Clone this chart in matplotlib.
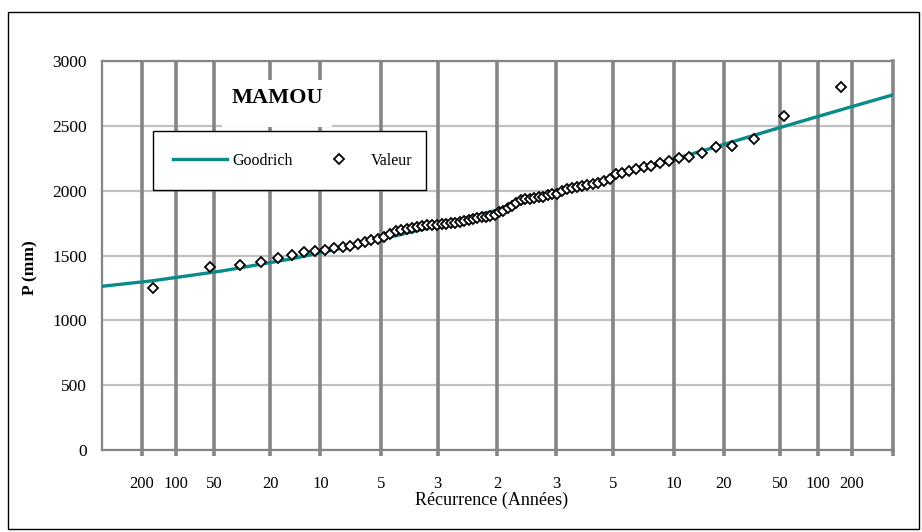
from statistics import NormalDist

import matplotlib
matplotlib.use("Agg")
import matplotlib.pyplot as plt
from matplotlib.patches import Rectangle

plt.rcParams["font.family"] = ["Liberation Serif", "DejaVu Serif"]

# return periods shown on the dry (left) and wet (right) side of the median
left_periods = [200, 100, 50, 20, 10, 5, 3]
right_periods = [3, 5, 10, 20, 50, 100, 200]

# observed annual rainfall, sorted (mm)
valeur = [
    1251, 1410, 1425, 1449, 1482, 1503, 1527, 1533, 1541, 1555,
    1562, 1574, 1587, 1603, 1618, 1629, 1644, 1665, 1687, 1699,
    1707, 1715, 1720, 1727, 1732, 1737, 1738, 1740, 1743, 1748,
    1752, 1758, 1765, 1772, 1781, 1788, 1795, 1799, 1806, 1815,
    1834, 1847, 1863, 1882, 1905, 1925, 1935, 1939, 1944, 1949,
    1955, 1963, 1971, 1978, 1998, 2012, 2021, 2029, 2036, 2045,
    2050, 2057, 2072, 2087, 2128, 2138, 2148, 2165, 2183, 2194,
    2210, 2227, 2252, 2258, 2292, 2338, 2346, 2395, 2574, 2800,
]

# fitted Goodrich law, read at some reduced-variable values
goodrich_u = [-2.87, -2.5, -2.0, -1.5, -1.0, -0.5, 0.0, 0.5, 1.0, 1.5, 2.0, 2.5, 2.87]
goodrich_p = [1262, 1305, 1380, 1472, 1585, 1712, 1850, 2000, 2155, 2310, 2470, 2625, 2738]

TEAL = "#0a8a8a"
GRID_DARK = "#858585"
GRID_LIGHT = "#c0c0c0"


def fig_box(ax, x0, y0, x1, y1, **kw):
    # rectangle given in pixel coords of the 922x532 picture (y from top)
    r = Rectangle((x0 / 922, 1 - y1 / 532), (x1 - x0) / 922, (y1 - y0) / 532,
                  transform=ax.figure.transFigure, clip_on=False, **kw)
    ax.add_patch(r)
    return r


def main():
    nd = NormalDist()
    n = len(valeur)
    # Hazen plotting positions on the gaussian reduced variable
    u_obs = [nd.inv_cdf((i - 0.5) / n) for i in range(1, n + 1)]

    tick_u = [-nd.inv_cdf(1 - 1 / t) for t in left_periods] + [0.0]
    tick_u += [nd.inv_cdf(1 - 1 / t) for t in right_periods]
    tick_lab = [str(t) for t in left_periods] + ["2"] + [str(t) for t in right_periods]

    fig = plt.figure(figsize=(9.22, 5.32), dpi=100)
    ax = fig.add_axes([102 / 922, 1 - 450 / 532, 791 / 922, 389 / 532])

    xmin, xmax = -2.866, 2.874
    ax.set_xlim(xmin, xmax)
    ax.set_ylim(0, 3000)

    for y in range(0, 3001, 500):
        ax.axhline(y, color=GRID_LIGHT, lw=1.6, zorder=1)
    for u in tick_u:
        ax.axvline(u, color=GRID_DARK, lw=2.6, zorder=1)

    ax.plot(goodrich_u, goodrich_p, color=TEAL, lw=2.4, zorder=3, label="Goodrich")
    ax.plot(u_obs, valeur, ls="none", marker="D", ms=5.2, mfc="white", mec="black",
            mew=1.3, zorder=4, label="Valeur")

    ax.set_xticks(tick_u + [xmax])
    ax.set_xticklabels(tick_lab + [""])
    ax.set_yticks(range(0, 3001, 500))
    ax.tick_params(axis="x", length=4, width=2.6, color=GRID_DARK, pad=15, labelsize=12)
    ax.tick_params(axis="y", length=0, pad=11, labelsize=12.5)
    for side in ["left", "bottom", "right", "top"]:
        ax.spines[side].set_color(GRID_DARK)
        ax.spines[side].set_linewidth(1.6)
    ax.spines["right"].set_linewidth(2.6)

    # title on its white patch
    fig_box(ax, 222, 80, 332, 127, fc="white", ec="none", zorder=5)
    ax.text(277 / 922, 1 - 98 / 532, "MAMOU", transform=fig.transFigure,
            ha="center", va="center", fontsize=16, fontweight="bold", zorder=6)

    # legend frame drawn by hand so its size matches the original box
    fig_box(ax, 153, 131, 426, 190, fc="white", ec="black", lw=1.0, zorder=5)
    leg = ax.legend(loc="center left", bbox_to_anchor=(173 / 922, 1 - 160.5 / 532),
                    bbox_transform=fig.transFigure, ncol=2, fontsize=11.5,
                    frameon=False, borderpad=0, handlelength=3.4, handletextpad=0.3,
                    columnspacing=1.2, borderaxespad=0)
    leg.set_zorder(6)

    fig.text(30 / 922, 1 - 268 / 532, "P (mm)", rotation=90, ha="center", va="center",
             fontsize=12.5, fontweight="bold")
    fig.text(492 / 922, 1 - 500 / 532, "Récurrence (Années)", ha="center", va="center",
             fontsize=13)

    fig.patches.append(Rectangle((8 / 922, 3 / 532), 911 / 922, 517 / 532,
                                 transform=fig.transFigure, fill=False,
                                 ec="black", lw=1.0))

    fig.savefig("out.png", dpi=100)
    plt.close(fig)


if __name__ == "__main__":
    main()
